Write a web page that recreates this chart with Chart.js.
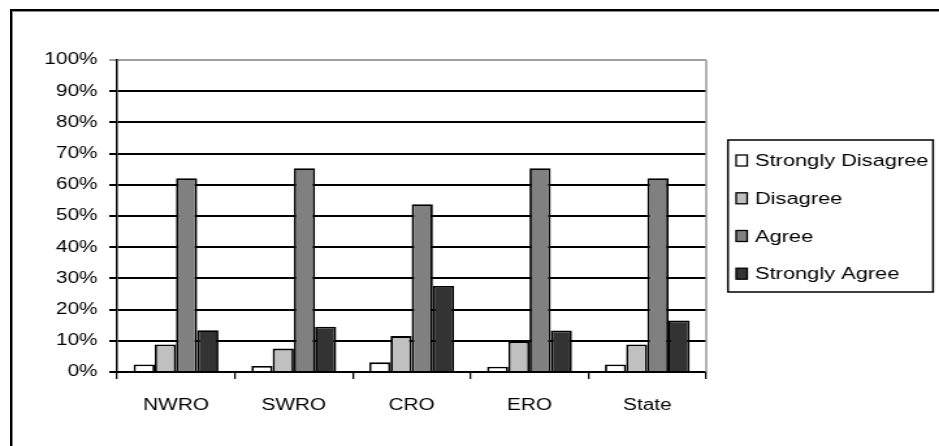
<!DOCTYPE html>
<html>
<head>
<meta charset="utf-8">
<script src="https://cdn.jsdelivr.net/npm/chart.js@4/dist/chart.umd.min.js"></script>
<style>
  html, body { margin: 0; padding: 0; background: #fff; overflow: hidden; }
  body { width: 939px; height: 446px; position: relative; }
  .frame {
    position: absolute; left: 10px; top: 9px; width: 2000px; height: 2000px;
    border-left: 2px solid #000; border-top: 2px solid #000;
    box-shadow: inset 1px 1px 0 #8a8a8a;
  }
  /* drawing surface is laid out narrower, then widened to the page width */
  .stage {
    position: absolute; left: 0; top: 0; width: 722px; height: 446px;
    transform: scaleX(1.3006); transform-origin: 0 0;
  }
</style>
</head>
<body>
<div class="frame"></div>
<div class="stage"><canvas id="chart"></canvas></div>
<script>
// Regions surveyed
const categories = ['NWRO', 'SWRO', 'CRO', 'ERO', 'State'];

// Share of responses per region, in percent
const stronglyDisagree = [2.4, 1.9, 3.1, 1.7, 2.4];
const disagree         = [8.8, 7.5, 11.5, 9.8, 8.8];
const agree            = [62.1, 65.3, 53.8, 65.3, 62.1];
const stronglyAgree    = [13.4, 14.5, 27.6, 13.3, 16.5];

const seriesNames  = ['Strongly Disagree', 'Disagree', 'Agree', 'Strongly Agree'];
const seriesValues = [stronglyDisagree, disagree, agree, stronglyAgree];
const seriesFills  = ['#ffffff', '#c0c0c0', '#808080', '#333333'];

// Y axis tick values
const yTicks = [0, 10, 20, 30, 40, 50, 60, 70, 80, 90, 100];

const FONT = { family: '"Liberation Sans", Arial, sans-serif', size: 16 };
const LEGEND_FONT_SIZE = 16.8;

// Boxed legend on the right plus the grey frame edge of the plot
const boxedLegend = {
  id: 'boxedLegend',
  afterDraw(chart) {
    const ctx = chart.ctx;
    const area = chart.chartArea;
    ctx.save();
    // grey right edge of the plot area
    ctx.strokeStyle = '#9a9a9a';
    ctx.lineWidth = 1.5;
    ctx.beginPath();
    ctx.moveTo(area.right, area.top);
    ctx.lineTo(area.right, area.bottom);
    ctx.stroke();

    // legend frame
    const lx = 559.7, ly = 140, lw = 157.7, lh = 152;
    ctx.strokeStyle = '#000';
    ctx.lineWidth = 1.5;
    ctx.strokeRect(lx, ly, lw, lh);

    const rows = [160.5, 198.3, 236, 273.7];
    ctx.font = LEGEND_FONT_SIZE + 'px ' + FONT.family;
    ctx.textBaseline = 'middle';
    ctx.textAlign = 'left';
    chart.data.datasets.forEach((ds, i) => {
      const cy = rows[i];
      ctx.fillStyle = ds.backgroundColor;
      ctx.fillRect(566, cy - 5.5, 8.5, 11);
      ctx.lineWidth = 1.3;
      ctx.strokeStyle = '#000';
      ctx.strokeRect(566, cy - 5.5, 8.5, 11);
      ctx.fillStyle = '#000';
      ctx.fillText(ds.label, 580.5, cy + 1);
    });
    ctx.restore();
  }
};

new Chart(document.getElementById('chart'), {
  type: 'bar',
  data: {
    labels: categories,
    datasets: seriesNames.map((name, i) => ({
      label: name,
      data: seriesValues[i],
      backgroundColor: seriesFills[i],
      borderColor: '#000',
      borderWidth: 1.8,
      categoryPercentage: 0.72,
      barPercentage: 1.0
    }))
  },
  options: {
    responsive: true,
    maintainAspectRatio: false,
    animation: false,
    layout: { padding: { left: 0, top: 60, right: 179, bottom: 0 } },
    plugins: { legend: { display: false }, tooltip: { enabled: false } },
    scales: {
      x: {
        grid: {
          display: true, drawOnChartArea: false, drawTicks: true,
          tickLength: 7, color: '#000', lineWidth: 1.3
        },
        border: { display: true, color: '#000', width: 2 },
        ticks: { font: FONT, color: '#000', padding: 17, maxRotation: 0 },
        afterFit(scale) { scale.height = 74; }
      },
      y: {
        min: 0, max: 100,
        afterBuildTicks(scale) { scale.ticks = yTicks.map(v => ({ value: v })); },
        grid: {
          color: ctx => (ctx.tick && ctx.tick.value === 100 ? '#a0a0a0' : '#000'),
          lineWidth: 2, drawTicks: true, tickLength: 6
        },
        border: { display: true, color: '#000', width: 1.5 },
        ticks: {
          font: FONT, color: '#000', padding: 9,
          callback: v => v + '%'
        },
        afterFit(scale) { scale.width = 90; }
      }
    }
  },
  plugins: [boxedLegend]
});
</script>
</body>
</html>
